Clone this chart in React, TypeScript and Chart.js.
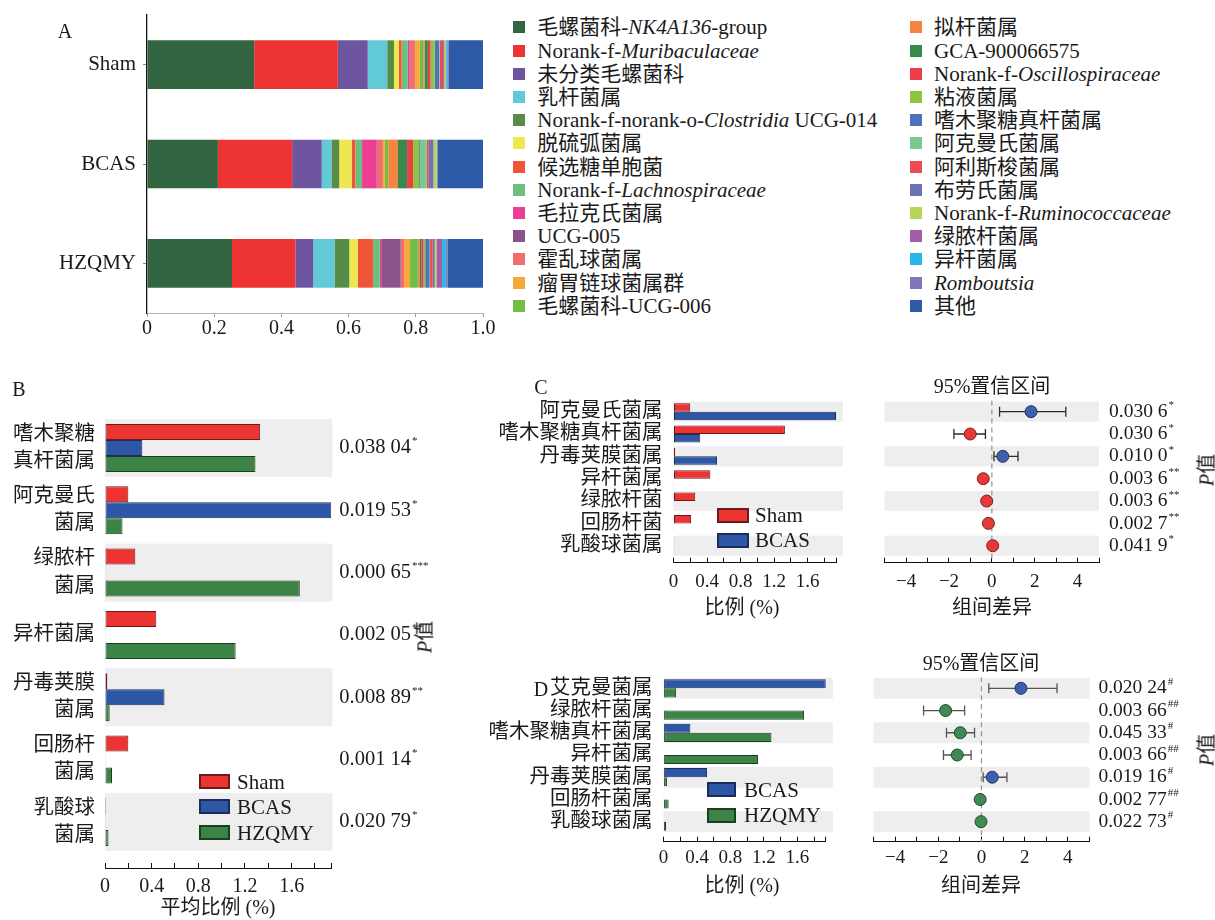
import React, { useEffect, useRef } from 'react';
import { Chart, registerables } from 'chart.js';

Chart.register(...registerables);

const SERIF = '"Liberation Serif", "Noto Sans CJK SC", serif';
const INK = '#1a1a1a';
const BAND = '#efeeef';

// ---------- A: genus-level composition per group ----------
const groups = ['Sham', 'BCAS', 'HZQMY'];
const taxa = [
  '毛螺菌科-*NK4A136*-group',
  'Norank-f-*Muribaculaceae*',
  '未分类毛螺菌科',
  '乳杆菌属',
  'Norank-f-norank-o-*Clostridia* UCG-014',
  '脱硫弧菌属',
  '候选糖单胞菌',
  'Norank-f-*Lachnospiraceae*',
  '毛拉克氏菌属',
  'UCG-005',
  '霍乱球菌属',
  '瘤胃链球菌属群',
  '毛螺菌科-UCG-006',
  '拟杆菌属',
  'GCA-900066575',
  'Norank-f-*Oscillospiraceae*',
  '粘液菌属',
  '嗜木聚糖真杆菌属',
  '阿克曼氏菌属',
  '阿利斯梭菌属',
  '布劳氏菌属',
  'Norank-f-*Ruminococcaceae*',
  '绿脓杆菌属',
  '异杆菌属',
  '*Romboutsia*',
  '其他',
];
const taxaColors = [
  '#336640', '#ee3333', '#6e55a0', '#62c9d6', '#568b48', '#ede84f', '#f05537',
  '#6cc07e', '#ec3d97', '#8a5389', '#f06e70', '#f6a93b', '#70be48', '#f58342',
  '#368a4e', '#ee3f47', '#8cc63f', '#4b74bb', '#7bc98e', '#ee4b50', '#6a73b5',
  '#b6d559', '#a55ca6', '#27b6e6', '#7f77b8', '#2d5aa6',
];
const shamShare = [
  0.319, 0.249, 0.089, 0.058, 0.020, 0.014, 0.009, 0.018, 0.005, 0.002, 0.015, 0.014, 0.010,
  0.004, 0.010, 0.008, 0.012, 0.0133, 0.0020, 0.010, 0.003, 0.004, 0.0026, 0.0044, 0.003, 0.1017,
];
const bcasShare = [
  0.211, 0.221, 0.088, 0.029, 0.023, 0.037, 0.011, 0.020, 0.042, 0.002, 0.018, 0.006, 0.010,
  0.029, 0.027, 0.018, 0.018, 0.0032, 0.0194, 0.006, 0.014, 0.010, 0.0003, 0.0004, 0.001, 0.1357,
];
const hzqmyShare = [
  0.253, 0.189, 0.053, 0.063, 0.044, 0.025, 0.046, 0.020, 0.004, 0.058, 0.010, 0.018, 0.023,
  0.005, 0.005, 0.007, 0.005, 0.0129, 0.0015, 0.008, 0.006, 0.005, 0.0168, 0.0113, 0.005, 0.1055,
];
const shareTicks = [0, 0.2, 0.4, 0.6, 0.8, 1.0];

// ---------- B: mean relative abundance of differential genera (%) ----------
const bGenera = [
  ['嗜木聚糖', '真杆菌属'],
  ['阿克曼氏', '菌属'],
  ['绿脓杆', '菌属'],
  '异杆菌属',
  ['丹毒荚膜', '菌属'],
  ['回肠杆', '菌属'],
  ['乳酸球', '菌属'],
];
const bSeries = ['Sham', 'BCAS', 'HZQMY'];
const bSham = [1.33, 0.2, 0.26, 0.44, 0.02, 0.2, 0.01];
const bBcas = [0.32, 1.94, 0.003, 0.002, 0.51, 0.002, 0.002];
const bHzqmy = [1.29, 0.15, 1.67, 1.12, 0.04, 0.06, 0.03];
const bP = ['0.038 04', '0.019 53', '0.000 65', '0.002 05', '0.008 89', '0.001 14', '0.020 79'];
const bMarks = ['*', '*', '***', '**', '**', '*', '*'];

// shared percentage axis
const pctTicks = [0, 0.2, 0.4, 0.6, 0.8, 1.0, 1.2, 1.4, 1.6, 1.8];
const pctLabels = [0, 0.4, 0.8, 1.2, 1.6];
const pctMax = 1.94;

// ---------- C: Sham vs BCAS ----------
const cGenera = ['阿克曼氏菌属', '嗜木聚糖真杆菌属', '丹毒荚膜菌属', '异杆菌属', '绿脓杆菌', '回肠杆菌', '乳酸球菌属'];
const cSeries = ['Sham', 'BCAS'];
const cSham = [0.2, 1.33, 0.02, 0.44, 0.26, 0.21, 0.01];
const cBcas = [1.94, 0.32, 0.52, 0.002, 0.003, 0.002, 0.002];
const cDiff = [1.83, -1.01, 0.51, -0.4, -0.24, -0.16, 0.04];
const cLow = [0.36, -1.77, 0.1, -0.5, -0.33, -0.24, -0.04];
const cHigh = [3.45, -0.3, 1.22, -0.3, -0.15, -0.08, 0.12];
const cEnriched = ['BCAS', 'Sham', 'BCAS', 'Sham', 'Sham', 'Sham', 'Sham'];
const cP = ['0.030 6', '0.030 6', '0.010 0', '0.003 6', '0.003 6', '0.002 7', '0.041 9'];
const cMarks = ['*', '*', '*', '**', '**', '**', '*'];

// ---------- D: BCAS vs HZQMY ----------
const dGenera = ['艾克曼菌属', '绿脓杆菌属', '嗜木聚糖真杆菌属', '异杆菌属', '丹毒荚膜菌属', '回肠杆菌属', '乳酸球菌属'];
const dSeries = ['BCAS', 'HZQMY'];
const dBcas = [1.94, 0.003, 0.32, 0.002, 0.52, 0.002, 0.002];
const dHzqmy = [0.15, 1.68, 1.29, 1.13, 0.04, 0.06, 0.03];
const dDiff = [1.83, -1.66, -0.98, -1.12, 0.5, -0.06, -0.02];
const dLow = [0.34, -2.68, -1.62, -1.76, 0.08, -0.12, -0.08];
const dHigh = [3.5, -0.78, -0.32, -0.48, 1.18, 0.0, 0.04];
const dEnriched = ['BCAS', 'HZQMY', 'HZQMY', 'HZQMY', 'BCAS', 'HZQMY', 'HZQMY'];
const dP = ['0.020 24', '0.003 66', '0.045 33', '0.003 66', '0.019 16', '0.002 77', '0.022 73'];
const dMarks = ['#', '##', '#', '##', '#', '##', '#'];

const diffTicks = [-5, -4, -3, -2, -1, 0, 1, 2, 3, 4, 5];
const diffLabels = [-4, -2, 0, 2, 4];

// ---------- styling ----------
const BAR_STYLE: Record<string, { fill: string; line: string }> = {
  Sham: { fill: '#ee3333', line: '#6a1c1c' },
  BCAS: { fill: '#2e56a6', line: '#1a2c58' },
  HZQMY: { fill: '#3c8446', line: '#1d3d22' },
};
const DOT_STYLE: Record<string, { fill: string; line: string }> = {
  Sham: { fill: '#e8393a', line: '#7d1f1f' },
  BCAS: { fill: '#3e5faa', line: '#1f3466' },
  HZQMY: { fill: '#3f8a55', line: '#1f4a2a' },
};

type Box = { x: number; y: number; w: number; h: number };
type Area = { l: number; t: number; r: number; b: number };

const A_BOX: Box = { x: 0, y: -15, w: 500, h: 360 };
const A_AREA: Area = { l: 147, t: 15, r: 483, b: 313 };
const B_BOX: Box = { x: 0, y: 370, w: 445, h: 550 };
const B_AREA: Area = { l: 105, t: 416.8, r: 331.3, b: 868 };
const C_BAR_BOX: Box = { x: 480, y: 365, w: 380, h: 255 };
const C_BAR_AREA: Area = { l: 673.5, t: 400.5, r: 836, b: 562.7 };
const C_CI_BOX: Box = { x: 860, y: 365, w: 345, h: 255 };
const C_CI_AREA: Area = { l: 884.7, t: 400.5, r: 1099, b: 562.7 };
const D_BAR_BOX: Box = { x: 480, y: 640, w: 380, h: 270 };
const D_BAR_AREA: Area = { l: 663.6, t: 677.2, r: 825.8, b: 841.7 };
const D_CI_BOX: Box = { x: 860, y: 640, w: 345, h: 270 };
const D_CI_AREA: Area = { l: 873.5, t: 677.2, r: 1089.4, b: 841.7 };

const plain = (s: string) => s.replace(/\*/g, '');
const near = (a: number, list: number[]) => list.some((v) => Math.abs(v - a) < 1e-9);
const fmtDiff = (v: number) => (v < 0 ? '\u2212' + Math.abs(v) : String(v));

function frame(box: Box, area: Area) {
  return {
    padding: { left: 0, top: area.t - box.y, right: box.x + box.w - area.r, bottom: 0 },
    yWidth: area.l - box.x,
    xHeight: box.y + box.h - area.b,
  };
}

// alternating grey row bands behind the rows
function bandPlugin(count: number, frac: number, extraRight: number) {
  return {
    id: 'rowBands',
    beforeDraw(chart: any) {
      const { ctx, chartArea, scales } = chart;
      const y = scales.y;
      const step = Math.abs(y.getPixelForValue(1) - y.getPixelForValue(0));
      ctx.save();
      ctx.fillStyle = BAND;
      for (let i = 0; i < count; i += 2) {
        const c = y.getPixelForValue(i);
        ctx.fillRect(chartArea.left, c - (step * frac) / 2, chartArea.right - chartArea.left + extraRight, step * frac);
      }
      ctx.restore();
    },
  };
}

// p-value column with significance marks, aligned to each row
function pValuePlugin(values: string[], marks: string[], offset: number, size: number) {
  return {
    id: 'pValues',
    afterDraw(chart: any) {
      const { ctx, chartArea, scales } = chart;
      const y = scales.y;
      ctx.save();
      ctx.fillStyle = INK;
      ctx.textAlign = 'left';
      ctx.textBaseline = 'middle';
      values.forEach((v, i) => {
        const py = y.getPixelForValue(i);
        const px = chartArea.right + offset;
        ctx.font = `${size}px ${SERIF}`;
        ctx.fillText(v, px, py);
        const w = ctx.measureText(v).width;
        ctx.font = `${Math.round(size * 0.55)}px ${SERIF}`;
        ctx.fillText(marks[i], px + w + 1, py - size * 0.32);
      });
      ctx.restore();
    },
  };
}

function makeComposition() {
  const f = frame(A_BOX, A_AREA);
  return {
    type: 'bar',
    data: {
      labels: groups,
      datasets: taxa.map((name, i) => ({
        label: plain(name),
        data: [shamShare[i], bcasShare[i], hzqmyShare[i]],
        backgroundColor: taxaColors[i],
        borderWidth: 0,
        barPercentage: 0.49,
        categoryPercentage: 1,
      })),
    },
    options: {
      indexAxis: 'y',
      responsive: false,
      animation: false,
      layout: { padding: f.padding },
      plugins: { legend: { display: false }, tooltip: { enabled: false } },
      scales: {
        x: {
          type: 'linear',
          stacked: true,
          min: 0,
          max: 1,
          afterBuildTicks: (s: any) => {
            s.ticks = shareTicks.map((v) => ({ value: v }));
          },
          afterFit: (s: any) => {
            s.height = f.xHeight;
          },
          ticks: {
            autoSkip: false,
            maxRotation: 0,
            padding: 0,
            color: INK,
            font: { family: SERIF, size: 20 },
            callback: (v: number) => (v === 0 ? '0' : Number(v).toFixed(1)),
          },
          grid: { drawOnChartArea: false, tickLength: 4, color: '#9a9a9a' },
          border: { color: '#b8b8b8' },
        },
        y: {
          stacked: true,
          afterFit: (s: any) => {
            s.width = f.yWidth;
          },
          ticks: { padding: 7, color: INK, font: { family: SERIF, size: 21 } },
          grid: { drawOnChartArea: false, offset: false, tickLength: 4, color: '#888' },
          border: { color: '#111', width: 1.3 },
        },
      },
    },
  };
}

type AbundanceOpts = {
  box: Box;
  area: Area;
  labels: (string | string[])[];
  series: string[];
  values: number[][];
  catPct: number;
  yMax: number;
  labelSize: number;
  labelLine: number;
  labelPad: number;
  tickSize: number;
  tickPad: number;
  bandFrac: number;
  bandExtra: number;
  pValues?: string[];
  marks?: string[];
  pOffset?: number;
  pSize?: number;
};

function makeAbundance(o: AbundanceOpts) {
  const f = frame(o.box, o.area);
  const plugins: any[] = [bandPlugin(o.labels.length, o.bandFrac, o.bandExtra)];
  if (o.pValues && o.marks) plugins.push(pValuePlugin(o.pValues, o.marks, o.pOffset || 8, o.pSize || 20));
  return {
    type: 'bar',
    data: {
      datasets: o.series.map((name, k) => ({
        label: name,
        data: o.values[k].map((v, i) => ({ x: v, y: i })),
        backgroundColor: BAR_STYLE[name].fill,
        borderColor: BAR_STYLE[name].line,
        borderWidth: 1,
        borderSkipped: false,
        categoryPercentage: o.catPct,
        barPercentage: 1,
      })),
    },
    plugins,
    options: {
      indexAxis: 'y',
      responsive: false,
      animation: false,
      layout: { padding: f.padding },
      plugins: { legend: { display: false }, tooltip: { enabled: false } },
      scales: {
        x: {
          type: 'linear',
          min: 0,
          max: pctMax,
          afterBuildTicks: (s: any) => {
            s.ticks = [...pctTicks, pctMax].map((v) => ({ value: v }));
          },
          afterFit: (s: any) => {
            s.height = f.xHeight;
          },
          ticks: {
            autoSkip: false,
            maxRotation: 0,
            padding: o.tickPad,
            color: INK,
            font: { family: SERIF, size: o.tickSize },
            callback: (v: number) => (near(v, pctLabels) ? String(Math.round(v * 10) / 10) : ''),
          },
          grid: { drawOnChartArea: false, tickLength: -5, color: '#111', lineWidth: 1 },
          border: { color: '#111', width: 1 },
        },
        y: {
          type: 'linear',
          offset: false,
          min: -0.5,
          max: o.yMax,
          reverse: true,
          afterBuildTicks: (s: any) => {
            s.ticks = o.labels.map((_, i) => ({ value: i }));
          },
          afterFit: (s: any) => {
            s.width = f.yWidth;
          },
          ticks: {
            autoSkip: false,
            padding: o.labelPad,
            color: INK,
            font: { family: SERIF, size: o.labelSize, lineHeight: o.labelLine },
            callback: (v: number) => o.labels[v],
          },
          grid: { display: false, drawTicks: false, offset: false },
          border: { display: false },
        },
      },
    },
  };
}

type IntervalOpts = {
  box: Box;
  area: Area;
  diff: number[];
  low: number[];
  high: number[];
  enriched: string[];
  yMax: number;
  errColor: string;
  tickSize: number;
  tickPad: number;
  bandFrac: number;
  pValues: string[];
  marks: string[];
  pOffset: number;
  pSize: number;
};

function makeInterval(o: IntervalOpts) {
  const f = frame(o.box, o.area);
  return {
    type: 'scatter',
    data: {
      datasets: [
        {
          type: 'scatter',
          label: 'difference',
          order: 0,
          data: o.diff.map((d, i) => ({ x: d, y: i })),
          pointRadius: 6,
          pointBackgroundColor: o.enriched.map((g) => DOT_STYLE[g].fill),
          pointBorderColor: o.enriched.map((g) => DOT_STYLE[g].line),
          pointBorderWidth: 1,
        },
        {
          type: 'line',
          label: '95% CI',
          order: 1,
          data: o.low.flatMap((l, i) => [
            { x: l, y: i },
            { x: o.high[i], y: i },
            { x: null, y: null },
          ]),
          borderColor: o.errColor,
          borderWidth: 1.3,
          pointStyle: 'line',
          pointRotation: 90,
          pointRadius: 5,
          pointBorderColor: o.errColor,
          pointBorderWidth: 1.3,
          spanGaps: false,
          fill: false,
        },
        {
          type: 'line',
          label: 'zero',
          order: 2,
          data: [
            { x: 0, y: -0.5 },
            { x: 0, y: o.yMax },
          ],
          borderColor: '#9a9a9a',
          borderDash: [5, 4],
          borderWidth: 1.3,
          pointRadius: 0,
          fill: false,
        },
      ],
    },
    plugins: [bandPlugin(o.diff.length, o.bandFrac, 0), pValuePlugin(o.pValues, o.marks, o.pOffset, o.pSize)],
    options: {
      responsive: false,
      animation: false,
      layout: { padding: f.padding },
      plugins: { legend: { display: false }, tooltip: { enabled: false } },
      scales: {
        x: {
          type: 'linear',
          min: -5,
          max: 5,
          afterBuildTicks: (s: any) => {
            s.ticks = diffTicks.map((v) => ({ value: v }));
          },
          afterFit: (s: any) => {
            s.height = f.xHeight;
          },
          ticks: {
            autoSkip: false,
            maxRotation: 0,
            padding: o.tickPad,
            color: INK,
            font: { family: SERIF, size: o.tickSize },
            callback: (v: number) => (near(v, diffLabels) ? fmtDiff(v) : ''),
          },
          grid: { drawOnChartArea: false, tickLength: -5, color: '#111', lineWidth: 1 },
          border: { color: '#111', width: 1 },
        },
        y: {
          type: 'linear',
          offset: false,
          min: -0.5,
          max: o.yMax,
          reverse: true,
          afterFit: (s: any) => {
            s.width = f.yWidth;
          },
          ticks: { display: false },
          grid: { display: false, drawTicks: false },
          border: { display: false },
        },
      },
    },
  };
}

function ChartCanvas({ box, make }: { box: Box; make: () => any }) {
  const ref = useRef<HTMLCanvasElement>(null);
  useEffect(() => {
    const chart = new Chart(ref.current as HTMLCanvasElement, make());
    return () => chart.destroy();
  }, []);
  return (
    <canvas
      ref={ref}
      width={box.w}
      height={box.h}
      style={{ position: 'absolute', left: box.x, top: box.y, width: box.w, height: box.h }}
    />
  );
}

function Label({
  x,
  y,
  children,
  size = 20,
  anchor = 'center',
  rotate = 0,
}: {
  x: number;
  y: number;
  children: any;
  size?: number;
  anchor?: 'center' | 'left';
  rotate?: number;
}) {
  const tx = anchor === 'center' ? '-50%' : '0';
  return (
    <div
      style={{
        position: 'absolute',
        left: x,
        top: y,
        transform: `translate(${tx}, -50%) rotate(${rotate}deg)`,
        fontSize: size,
        lineHeight: 1.15,
        whiteSpace: 'nowrap',
      }}
    >
      {children}
    </div>
  );
}

function Rich({ text }: { text: string }) {
  return (
    <>
      {text.split('*').map((part, i) => (i % 2 ? <i key={i}>{part}</i> : <span key={i}>{part}</span>))}
    </>
  );
}

function Key({ x, y, w, h, name, gap }: { x: number; y: number; w: number; h: number; name: string; gap: number }) {
  const st = BAR_STYLE[name];
  return (
    <>
      <div
        style={{
          position: 'absolute',
          left: x,
          top: y - h / 2,
          width: w,
          height: h,
          background: st.fill,
          border: `2px solid ${st.line}`,
          boxSizing: 'border-box',
        }}
      />
      <Label x={x + w + gap} y={y} anchor="left" size={21}>
        {name}
      </Label>
    </>
  );
}

const PTitle = ({ x, y }: { x: number; y: number }) => (
  <Label x={x} y={y} rotate={-90} size={20}>
    <i>P</i>值
  </Label>
);

export default function App() {
  return (
    <div
      style={{
        position: 'absolute',
        left: 0,
        top: 0,
        width: 1215,
        height: 920,
        background: '#fff',
        fontFamily: SERIF,
        color: INK,
        overflow: 'hidden',
      }}
    >
      {/* A */}
      <ChartCanvas box={A_BOX} make={makeComposition} />
      <Label x={65} y={31}>A</Label>
      {taxa.map((name, i) => {
        const col = i < 13 ? 0 : 1;
        const row = i % 13;
        const sx = col ? 910 : 513.3;
        const cy = 27.3 + row * 23.2;
        return (
          <React.Fragment key={name}>
            <div
              style={{ position: 'absolute', left: sx, top: cy - 6, width: 12, height: 12, background: taxaColors[i] }}
            />
            <Label x={sx + 24} y={cy} anchor="left" size={21}>
              <Rich text={name} />
            </Label>
          </React.Fragment>
        );
      })}

      {/* B */}
      <ChartCanvas
        box={B_BOX}
        make={() =>
          makeAbundance({
            box: B_BOX,
            area: B_AREA,
            labels: bGenera,
            series: bSeries,
            values: [bSham, bBcas, bHzqmy],
            catPct: 0.77,
            yMax: 6.74,
            labelSize: 20.5,
            labelLine: 1.32,
            labelPad: 10,
            tickSize: 20,
            tickPad: 12,
            bandFrac: 0.93,
            bandExtra: 1,
            pValues: bP,
            marks: bMarks,
            pOffset: 8,
            pSize: 20.5,
          })
        }
      />
      <Label x={19} y={389}>B</Label>
      <Key x={199} y={781.5} w={31} h={15} name={bSeries[0]} gap={7} />
      <Key x={199} y={806.5} w={31} h={15} name={bSeries[1]} gap={7} />
      <Key x={199} y={832.5} w={31} h={15} name={bSeries[2]} gap={7} />
      <Label x={218} y={907}>平均比例 (%)</Label>
      <PTitle x={425} y={637} />

      {/* C */}
      <ChartCanvas
        box={C_BAR_BOX}
        make={() =>
          makeAbundance({
            box: C_BAR_BOX,
            area: C_BAR_AREA,
            labels: cGenera,
            series: cSeries,
            values: [cSham, cBcas],
            catPct: 0.76,
            yMax: 6.76,
            labelSize: 20.5,
            labelLine: 1.2,
            labelPad: 11,
            tickSize: 19,
            tickPad: 13,
            bandFrac: 0.9,
            bandExtra: 7,
          })
        }
      />
      <ChartCanvas
        box={C_CI_BOX}
        make={() =>
          makeInterval({
            box: C_CI_BOX,
            area: C_CI_AREA,
            diff: cDiff,
            low: cLow,
            high: cHigh,
            enriched: cEnriched,
            yMax: 6.76,
            errColor: '#2a2a2a',
            tickSize: 19,
            tickPad: 13,
            bandFrac: 0.9,
            pValues: cP,
            marks: cMarks,
            pOffset: 10,
            pSize: 19.5,
          })
        }
      />
      <Label x={541} y={387}>C</Label>
      <Key x={717} y={515} w={32} h={15} name={cSeries[0]} gap={6} />
      <Key x={717} y={540} w={32} h={15} name={cSeries[1]} gap={6} />
      <Label x={742} y={607}>比例 (%)</Label>
      <Label x={992} y={386}>95%置信区间</Label>
      <Label x={992} y={607}>组间差异</Label>
      <PTitle x={1207} y={470} />

      {/* D */}
      <ChartCanvas
        box={D_BAR_BOX}
        make={() =>
          makeAbundance({
            box: D_BAR_BOX,
            area: D_BAR_AREA,
            labels: dGenera,
            series: dSeries,
            values: [dBcas, dHzqmy],
            catPct: 0.82,
            yMax: 6.9,
            labelSize: 20.5,
            labelLine: 1.2,
            labelPad: 11,
            tickSize: 19,
            tickPad: 10,
            bandFrac: 0.94,
            bandExtra: 7,
          })
        }
      />
      <ChartCanvas
        box={D_CI_BOX}
        make={() =>
          makeInterval({
            box: D_CI_BOX,
            area: D_CI_AREA,
            diff: dDiff,
            low: dLow,
            high: dHigh,
            enriched: dEnriched,
            yMax: 6.9,
            errColor: '#555',
            tickSize: 19,
            tickPad: 10,
            bandFrac: 0.94,
            pValues: dP,
            marks: dMarks,
            pOffset: 9,
            pSize: 19.5,
          })
        }
      />
      <Label x={541} y={689}>D</Label>
      <Key x={707} y={789.5} w={29} h={15} name={dSeries[0]} gap={8} />
      <Key x={707} y={815} w={29} h={15} name={dSeries[1]} gap={8} />
      <Label x={742} y={885}>比例 (%)</Label>
      <Label x={981} y={663}>95%置信区间</Label>
      <Label x={981} y={885}>组间差异</Label>
      <PTitle x={1207} y={750} />
    </div>
  );
}
